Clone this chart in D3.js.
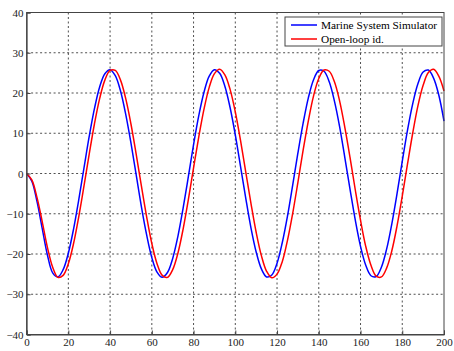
<!DOCTYPE html>
<html>
<head>
<meta charset="utf-8">
<script src="https://cdn.jsdelivr.net/npm/d3@7"></script>
<style>
  html, body { margin: 0; padding: 0; background: #fff; }
  svg { display: block; }
</style>
</head>
<body>
<svg id="chart" width="454" height="351"></svg>
<script>
// Time axis samples (every 2.5 units)
const time = d3.range(0, 200.001, 2.5);

// Heading response of the Marine System Simulator
const simulator = [
  0, -1.9, -7.0, -13.7, -20.3, -24.7, -25.7, -23.9, -19.8, -13.8,
  -6.5, 1.4, 9.2, 16.1, 21.5, 24.8, 25.8, 24.3, 20.5, 14.7,
  7.6, -0.3, -8.2, -15.2, -20.9, -24.5, -25.8, -24.6, -21.1, -15.6,
  -8.6, -0.8, 7.2, 14.4, 20.2, 24.2, 25.8, 24.9, 21.7, 16.4,
  9.6, 1.8, -6.1, -13.5, -19.5, -23.7, -25.7, -25.2, -22.3, -17.2,
  -10.6, -2.9, 5.1, 12.5, 18.8, 23.3, 25.6, 25.4, 22.8, 18.0,
  11.6, 3.9, -4.0, -11.6, -18.1, -22.8, -25.4, -25.6, -23.3, -18.8,
  -12.5, -5.0, 3.0, 10.7, 17.3, 22.3, 25.2, 25.7, 23.7, 19.5,
  13.0
];

// Heading response of the open-loop identified model
const openLoop = [
  0, -1.6, -6.0, -12.0, -18.4, -23.3, -25.8, -25.3, -22.4, -17.4,
  -10.7, -3.1, 4.8, 12.3, 18.6, 23.2, 25.6, 25.6, 23.2, 18.6,
  12.3, 4.8, -3.1, -10.7, -17.4, -22.4, -25.3, -25.8, -23.9, -19.8,
  -13.8, -6.5, 1.4, 9.1, 16.0, 21.4, 24.8, 25.9, 24.5, 20.9,
  15.3, 8.2, 0.4, -7.4, -14.6, -20.4, -24.3, -25.9, -25.0, -21.9,
  -16.6, -9.9, -2.2, 5.8, 13.1, 19.3, 23.6, 25.7, 25.4, 22.8,
  18.0, 11.4, 3.9, -4.1, -11.6, -18.1, -22.8, -25.5, -25.7, -23.5,
  -19.2, -13.0, -5.6, 2.3, 10.0, 16.8, 21.9, 25.1, 25.9, 24.2,
  20.5
];

const xTicks = [0, 20, 40, 60, 80, 100, 120, 140, 160, 180, 200];
const yTicks = [-40, -30, -20, -10, 0, 10, 20, 30, 40];
const seriesNames = ["Marine System Simulator", "Open-loop id."];
const seriesColors = ["#0000ff", "#ff0000"];

const svg = d3.select("#chart");
const plotLeft = 26.6, plotRight = 444, plotTop = 12.5, plotBottom = 334.5;

const x = d3.scaleLinear().domain([0, 200]).range([plotLeft, plotRight]);
const y = d3.scaleLinear().domain([-40, 40]).range([plotBottom, plotTop]);

const font = "'Liberation Serif', 'Times New Roman', serif";

// Grid lines
const grid = svg.append("g");
grid.selectAll(".gx").data(xTicks.slice(1, -1)).enter().append("line")
  .attr("x1", d => x(d)).attr("x2", d => x(d))
  .attr("y1", plotTop).attr("y2", plotBottom)
  .attr("stroke", "#222").attr("stroke-width", 0.8)
  .attr("stroke-dasharray", "2,2.5");
grid.selectAll(".gy").data(yTicks.slice(1, -1)).enter().append("line")
  .attr("x1", plotLeft).attr("x2", plotRight)
  .attr("y1", d => y(d)).attr("y2", d => y(d))
  .attr("stroke", "#222").attr("stroke-width", 0.8)
  .attr("stroke-dasharray", "2,2.5");

// Series lines
const series = [simulator, openLoop];
const line = d3.line()
  .x((d, i) => x(time[i]))
  .y(d => y(d))
  .curve(d3.curveCatmullRom.alpha(0.5));

svg.append("g").selectAll("path").data(series).enter().append("path")
  .attr("d", d => line(d))
  .attr("fill", "none")
  .attr("stroke", (d, i) => seriesColors[i])
  .attr("stroke-width", 1.5)
  .attr("stroke-linejoin", "round");

// Frame
svg.append("rect")
  .attr("x", plotLeft).attr("y", plotTop)
  .attr("width", plotRight - plotLeft).attr("height", plotBottom - plotTop)
  .attr("fill", "none").attr("stroke", "#444").attr("stroke-width", 1);

// Axes (ticks inward, like the frame)
const xAxis = d3.axisBottom(x).tickValues(xTicks).tickSize(-4).tickPadding(5).tickFormat(d3.format("d"));
const yAxis = d3.axisLeft(y).tickValues(yTicks).tickSize(-4).tickPadding(3).tickFormat(d3.format("d"));

const gx = svg.append("g").attr("transform", `translate(0,${plotBottom})`).call(xAxis);
const gy = svg.append("g").attr("transform", `translate(${plotLeft},0)`).call(yAxis);
[gx, gy].forEach(g => {
  g.attr("font-family", font);
  g.select(".domain").attr("stroke", "#444");
  g.selectAll(".tick line").attr("stroke", "#444");
  g.selectAll("text").attr("font-family", font).attr("font-size", 11).attr("fill", "#222");
});
gx.selectAll(".tick text").attr("dy", "0.75em").attr("y", 3);

// Legend
const legend = svg.append("g");
legend.append("rect")
  .attr("x", 285).attr("y", 17).attr("width", 157).attr("height", 29)
  .attr("fill", "#fff").attr("stroke", "#444").attr("stroke-width", 1);
seriesNames.forEach((name, i) => {
  const ly = 25 + i * 14;
  legend.append("line")
    .attr("x1", 291).attr("x2", 317).attr("y1", ly).attr("y2", ly)
    .attr("stroke", seriesColors[i]).attr("stroke-width", 1.5);
  legend.append("text")
    .attr("x", 321).attr("y", ly).attr("dy", "0.35em")
    .attr("font-family", font).attr("font-size", 11.3).attr("fill", "#000")
    .text(name);
});
</script>
</body>
</html>
